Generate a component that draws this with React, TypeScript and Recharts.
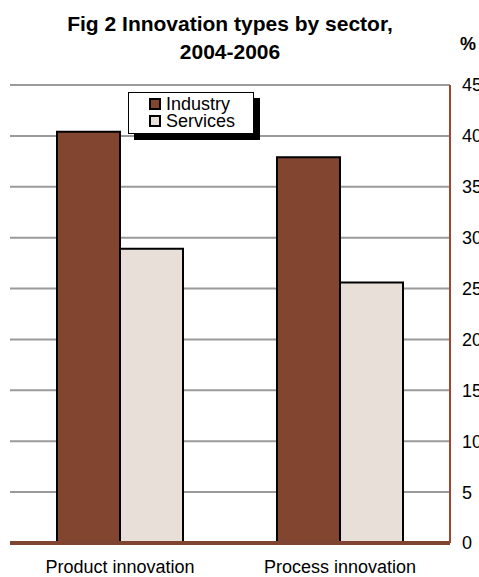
import { BarChart, Bar, XAxis, YAxis, CartesianGrid } from 'recharts';

const categories = ['Product innovation', 'Process innovation'];
const industry = [40.4, 37.9];
const services = [28.9, 25.6];
const yTicks = [0, 5, 10, 15, 20, 25, 30, 35, 40, 45];

const data = categories.map((c, i) => ({ c, industry: industry[i], services: services[i] }));

const FONT = '"Liberation Sans", Arial, sans-serif';

function LegendBox() {
  const items = [
    { label: 'Industry', color: '#824530' },
    { label: 'Services', color: '#e8e0d8' },
  ];
  return (
    <div
      style={{
        position: 'absolute',
        left: 128,
        top: 92,
        width: 126,
        height: 42,
        border: '1px solid #000',
        background: '#fff',
        boxShadow: '6px 6px 0 #000',
        fontFamily: FONT,
        fontSize: 18,
        lineHeight: '18px',
        paddingTop: 2,
        boxSizing: 'border-box',
      }}
    >
      {items.map((it) => (
        <div key={it.label} style={{ display: 'flex', alignItems: 'center', paddingLeft: 20, height: 17 }}>
          <span
            style={{
              width: 12,
              height: 12,
              background: it.color,
              border: '2px solid #000',
              marginRight: 5,
              boxSizing: 'border-box',
            }}
          />
          <span>{it.label}</span>
        </div>
      ))}
    </div>
  );
}

export default function App() {
  return (
    <div style={{ position: 'absolute', left: 0, top: 0, width: 479, height: 577, background: '#fff', fontFamily: FONT }}>
      <BarChart
        width={479}
        height={577}
        data={data}
        margin={{ top: 85, right: 0, bottom: 0, left: 10 }}
        barCategoryGap={47}
        barGap={0}
        style={{ position: 'absolute', left: 0, top: 0 }}
      >
        <CartesianGrid vertical={false} stroke="#9a9a9a" strokeWidth={2} />
        <XAxis
          dataKey="c"
          height={34}
          axisLine={{ stroke: '#7f4530', strokeWidth: 4 }}
          tickLine={false}
          tick={{ fill: '#000', fontSize: 18, fontFamily: FONT }}
          tickMargin={11}
        />
        <YAxis
          orientation="right"
          width={29}
          domain={[0, 45]}
          ticks={yTicks}
          axisLine={{ stroke: '#a0452e', strokeWidth: 2 }}
          tickLine={false}
          tickMargin={6}
          tick={{ fill: '#000', fontSize: 18, fontFamily: FONT }}
        />
        <Bar dataKey="industry" name="Industry" fill="#824530" stroke="#000" strokeWidth={2} isAnimationActive={false} />
        <Bar dataKey="services" name="Services" fill="#e8e0d8" stroke="#000" strokeWidth={2} isAnimationActive={false} />
      </BarChart>
      <div
        style={{
          position: 'absolute',
          left: 0,
          width: 460,
          top: 10,
          textAlign: 'center',
          fontWeight: 'bold',
          fontSize: 21,
          lineHeight: '28px',
        }}
      >
        Fig 2 Innovation types by sector,
        <br />
        2004-2006
      </div>
      <div style={{ position: 'absolute', left: 460, top: 34, fontWeight: 'bold', fontSize: 18 }}>%</div>
      <LegendBox />
    </div>
  );
}
